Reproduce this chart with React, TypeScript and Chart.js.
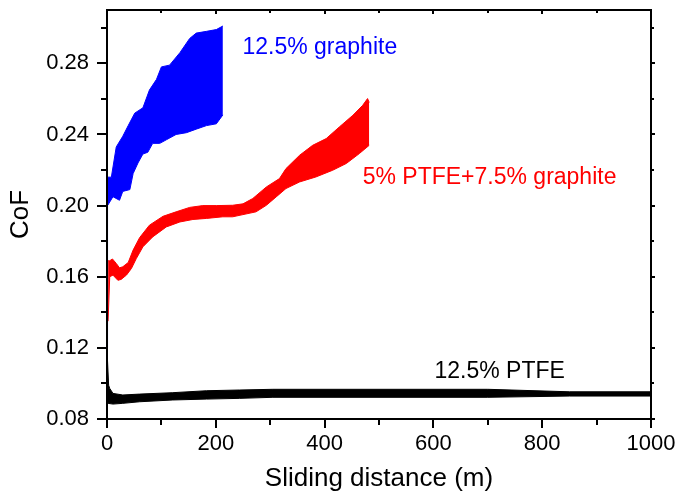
import React, { useEffect, useRef } from "react";
import { Chart, registerables } from "chart.js";

Chart.register(...registerables);

const FONT = '"Liberation Sans", Arial, Helvetica, sans-serif';

// ---- Axis ticks ----
const xMajorTicks = [0, 200, 400, 600, 800, 1000];
const xMinorTicks = [100, 300, 500, 700, 900];
const yMajorTicks = [0.08, 0.12, 0.16, 0.2, 0.24, 0.28];
const yMinorTicks = [0.1, 0.14, 0.18, 0.22, 0.26, 0.3];
const yTickLabels = ["0.08", "0.12", "0.16", "0.20", "0.24", "0.28"];
const xTickLabels = ["0", "200", "400", "600", "800", "1000"];

// ---- 12.5% graphite (blue band: upper / lower envelope) ----
const graphiteHighX = [0, 8, 17, 29, 39, 51, 66, 78, 91, 100, 115, 134, 152, 164, 183, 201, 213];
const graphiteHighY = [0.216, 0.216, 0.233, 0.239, 0.245, 0.252, 0.255, 0.265, 0.271, 0.278, 0.279, 0.286, 0.294, 0.297, 0.298, 0.299, 0.301];
const graphiteLowX = [0, 1, 11, 23, 29, 42, 48, 57, 66, 75, 84, 97, 109, 127, 146, 164, 183, 201, 213];
const graphiteLowY = [0.12, 0.2, 0.205, 0.203, 0.208, 0.209, 0.218, 0.224, 0.229, 0.23, 0.235, 0.235, 0.237, 0.24, 0.241, 0.243, 0.245, 0.246, 0.251];

// ---- 5% PTFE + 7.5% graphite (red band) ----
const hybridHighX = [2, 5, 10, 17, 23, 29, 39, 48, 60, 78, 103, 127, 152, 176, 201, 231, 250, 268, 293, 317, 329, 354, 378, 403, 427, 452, 470, 479, 482];
const hybridHighY = [0.169, 0.169, 0.170, 0.1675, 0.165, 0.1656, 0.168, 0.175, 0.182, 0.189, 0.194, 0.1965, 0.199, 0.2, 0.2, 0.2002, 0.201, 0.204, 0.2105, 0.2152, 0.2208, 0.2283, 0.2339, 0.2377, 0.2442, 0.2508, 0.2564, 0.2602, 0.258];
const hybridLowX = [2, 5, 11, 20, 26, 36, 45, 54, 66, 84, 109, 134, 158, 183, 213, 231, 274, 293, 311, 329, 354, 384, 415, 440, 464, 482];
const hybridLowY = [0.135, 0.16, 0.1609, 0.158, 0.1585, 0.161, 0.1647, 0.1703, 0.1768, 0.1824, 0.188, 0.1908, 0.1922, 0.1928, 0.1937, 0.1937, 0.1965, 0.2002, 0.2049, 0.2096, 0.2133, 0.2161, 0.2199, 0.2237, 0.2293, 0.2339];

// ---- 12.5% PTFE (black band) ----
const ptfeHighX = [0, 3, 5, 11, 29, 60, 121, 183, 244, 305, 500, 700, 850, 1000];
const ptfeHighY = [0.119, 0.099, 0.0972, 0.0944, 0.0935, 0.094, 0.0948, 0.0959, 0.0963, 0.0967, 0.0967, 0.0967, 0.0953, 0.0953];
const ptfeLowX = [0, 2, 11, 29, 60, 121, 183, 244, 305, 500, 700, 850, 1000];
const ptfeLowY = [0.1, 0.0888, 0.0884, 0.0888, 0.0897, 0.0907, 0.0912, 0.0916, 0.0922, 0.0922, 0.0922, 0.0929, 0.0929];

// ---- Labels ----
const seriesNames = ["12.5% graphite", "5% PTFE+7.5% graphite", "12.5% PTFE"];
const seriesColors = ["#0000ff", "#ff0000", "#000000"];
const labelX = [249, 470, 602];
const labelY = [0.289, 0.216, 0.1064];

const toPts = (xs: number[], ys: number[]) => xs.map((x, i) => ({ x, y: ys[i] }));

const framePlugin = {
  id: "frameAndLabels",
  afterDatasetsDraw(chart: any) {
    const { ctx, chartArea: a, scales } = chart;
    const x = scales.x;
    const y = scales.y;
    ctx.save();
    ctx.font = `23px ${FONT}`;
    ctx.textAlign = "left";
    ctx.textBaseline = "middle";
    seriesNames.forEach((name, i) => {
      ctx.fillStyle = seriesColors[i];
      ctx.fillText(name, x.getPixelForValue(labelX[i]), y.getPixelForValue(labelY[i]));
    });
    ctx.strokeStyle = "#000";
    ctx.lineWidth = 2;
    ctx.strokeRect(a.left, a.top, a.right - a.left, a.bottom - a.top);
    const seg = (x1: number, y1: number, x2: number, y2: number) => {
      ctx.beginPath();
      ctx.moveTo(x1, y1);
      ctx.lineTo(x2, y2);
      ctx.stroke();
    };
    xMajorTicks.forEach((v) => {
      const p = Math.round(x.getPixelForValue(v));
      seg(p, a.bottom, p, a.bottom + 9);
      seg(p, a.top, p, a.top + 4);
    });
    xMinorTicks.forEach((v) => {
      const p = Math.round(x.getPixelForValue(v));
      seg(p, a.bottom, p, a.bottom + 6);
      seg(p, a.top, p, a.top + 3);
    });
    yMajorTicks.forEach((v) => {
      const p = Math.round(y.getPixelForValue(v));
      seg(a.left - 10, p, a.left, p);
      seg(a.right, p, a.right + 4, p);
    });
    yMinorTicks.forEach((v) => {
      const p = Math.round(y.getPixelForValue(v));
      seg(a.left - 6, p, a.left, p);
      seg(a.right, p, a.right + 3, p);
    });
    ctx.restore();
  },
};

export default function App() {
  const canvasRef = useRef<HTMLCanvasElement | null>(null);

  useEffect(() => {
    const canvas = canvasRef.current;
    if (!canvas) return;
    const band = (color: string, xs: number[], ys: number[], fill: any) => ({
      data: toPts(xs, ys),
      borderColor: color,
      backgroundColor: color,
      borderWidth: 1,
      pointRadius: 0,
      tension: 0,
      fill,
    });
    const chart = new Chart(canvas, {
      type: "line",
      data: {
        datasets: [
          band(seriesColors[0], graphiteLowX, graphiteLowY, false),
          band(seriesColors[0], graphiteHighX, graphiteHighY, "-1"),
          band(seriesColors[1], hybridLowX, hybridLowY, false),
          band(seriesColors[1], hybridHighX, hybridHighY, "-1"),
          band(seriesColors[2], ptfeLowX, ptfeLowY, false),
          band(seriesColors[2], ptfeHighX, ptfeHighY, "-1"),
        ],
      },
      options: {
        responsive: false,
        animation: false,
        events: [],
        layout: { padding: { top: 10, right: 29, left: 0, bottom: 0 } },
        plugins: {
          legend: { display: false },
          tooltip: { enabled: false },
        },
        scales: {
          x: {
            type: "linear",
            min: 0,
            max: 1000,
            grid: { display: false, drawTicks: false, tickLength: 0 },
            border: { display: false },
            afterBuildTicks: (s: any) => {
              s.ticks = xMajorTicks.map((value) => ({ value }));
            },
            afterFit: (s: any) => {
              s.height = 75;
              s.paddingLeft = 0;
              s.paddingRight = 0;
            },
            ticks: {
              autoSkip: false,
              maxRotation: 0,
              padding: 12,
              color: "#000",
              font: { family: FONT, size: 22, lineHeight: 1.2 },
              callback: (v: any) => {
                const i = xMajorTicks.indexOf(Number(v));
                return i >= 0 ? xTickLabels[i] : "";
              },
            },
            title: {
              display: true,
              text: "Sliding distance (m)",
              color: "#000",
              padding: { top: 0, bottom: 0 },
              font: { family: FONT, size: 26, lineHeight: 1.2 },
            },
          },
          y: {
            type: "linear",
            min: 0.08,
            max: 0.31,
            grid: { display: false, drawTicks: false, tickLength: 0 },
            border: { display: false },
            afterBuildTicks: (s: any) => {
              s.ticks = yMajorTicks.map((value) => ({ value }));
            },
            afterFit: (s: any) => {
              s.width = 107;
              s.paddingTop = 0;
              s.paddingBottom = 0;
            },
            ticks: {
              autoSkip: false,
              padding: 18,
              color: "#000",
              font: { family: FONT, size: 22, lineHeight: 1.2 },
              callback: (v: any) => {
                const i = yMajorTicks.findIndex((t) => Math.abs(t - Number(v)) < 1e-9);
                return i >= 0 ? yTickLabels[i] : "";
              },
            },
            title: {
              display: true,
              text: "CoF",
              color: "#000",
              padding: { top: 5, bottom: 0 },
              font: { family: FONT, size: 26, lineHeight: 1.2 },
            },
          },
        },
      },
      plugins: [framePlugin],
    });
    return () => chart.destroy();
  }, []);

  return (
    <canvas
      ref={canvasRef}
      width={680}
      height={494}
      style={{ position: "absolute", left: 0, top: 0, display: "block", width: 680, height: 494, background: "#fff" }}
    />
  );
}
